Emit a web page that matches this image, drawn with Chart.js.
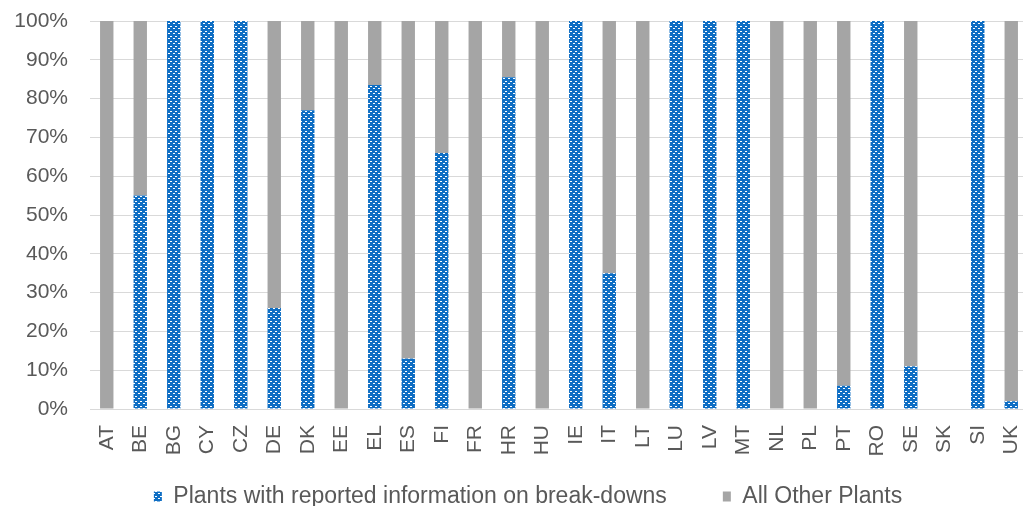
<!DOCTYPE html>
<html>
<head>
<meta charset="utf-8">
<script src="https://cdn.jsdelivr.net/npm/chart.js@4/dist/chart.umd.min.js"></script>
<style>
  html, body { margin: 0; padding: 0; background: #fff; overflow: hidden; }
  #wrap { position: relative; width: 1030px; height: 506px; }
</style>
</head>
<body>
<div id="wrap"><canvas id="chart"></canvas></div>
<script>
// Country codes along the x axis
const categories = ['AT','BE','BG','CY','CZ','DE','DK','EE','EL','ES','FI','FR','HR','HU',
                    'IE','IT','LT','LU','LV','MT','NL','PL','PT','RO','SE','SK','SI','UK'];

// Share of plants (%) with reported information on break-downs
const reportedShare = [0, 55, 100, 100, 100, 26, 77, 0, 83.5, 13, 66, 0, 85.5, 0,
                       100, 35, 0, 100, 100, 100, 0, 0, 6, 100, 11, 0, 100, 2];

// Share of all other plants (%)
const otherShare = [100, 45, 0, 0, 0, 74, 23, 100, 16.5, 87, 34, 100, 14.5, 100,
                    0, 65, 100, 0, 0, 0, 100, 100, 94, 0, 89, 0, 0, 98];

// Y axis tick values (%)
const percentTicks = [0, 10, 20, 30, 40, 50, 60, 70, 80, 90, 100];

const seriesNames = ['Plants with reported information on break-downs', 'All Other Plants'];

const TEXT = '#595959';
const GRID = '#D9D9D9';
const GREY = '#A5A5A5';
const BLUE = '#0E6EC4';
const FONT = 'Liberation Sans, Arial, sans-serif';

// Blue tile with staggered short white dashes
function dashPattern() {
  const t = document.createElement('canvas');
  t.width = 5; t.height = 5;
  const g = t.getContext('2d');
  g.fillStyle = BLUE;
  g.fillRect(0, 0, 5, 5);
  g.fillStyle = '#ffffff';
  g.fillRect(0, 1, 2, 1);
  g.fillRect(3, 3, 2, 1);
  return g.createPattern(t, 'repeat');
}

// Lifts the legend row closer to the axis labels and centres it under the plot
const legendPlacement = {
  id: 'legendPlacement',
  afterLayout(chart) {
    const lg = chart.legend;
    if (!lg) return;
    lg.top -= 30; lg.bottom -= 30;
    lg.left += 14; lg.right += 14;
  }
};

const ctx = document.getElementById('chart').getContext('2d');
const bluePattern = dashPattern();

new Chart(ctx, {
  type: 'bar',
  data: {
    labels: categories,
    datasets: [
      { label: seriesNames[0], data: reportedShare, backgroundColor: bluePattern, borderWidth: 0 },
      { label: seriesNames[1], data: otherShare, backgroundColor: GREY, borderWidth: 0 }
    ]
  },
  plugins: [legendPlacement],
  options: {
    responsive: true,
    maintainAspectRatio: false,
    animation: false,
    categoryPercentage: 1,
    barPercentage: 0.4,
    layout: { padding: { top: 21, left: 0, right: 2, bottom: -42 } },
    plugins: {
      tooltip: { enabled: false },
      legend: {
        position: 'bottom',
        labels: {
          boxWidth: 8,
          boxHeight: 10,
          padding: 56,
          color: TEXT,
          font: { family: FONT, size: 23 }
        }
      }
    },
    scales: {
      x: {
        stacked: true,
        grid: { display: false, drawTicks: false },
        border: { display: true, color: GRID },
        ticks: {
          autoSkip: false,
          maxRotation: 90,
          minRotation: 90,
          padding: 16,
          color: TEXT,
          font: { family: FONT, size: 21 }
        },
        afterFit(scale) {
          scale.height = 50;
          scale.paddingLeft = 0;
          scale.paddingRight = 0;
        }
      },
      y: {
        stacked: true,
        min: 0,
        max: 100,
        grid: { color: GRID, lineWidth: 1, drawTicks: false },
        border: { display: false },
        afterBuildTicks(scale) {
          scale.ticks = percentTicks.map(v => ({ value: v }));
        },
        ticks: {
          padding: 22,
          color: TEXT,
          font: { family: FONT, size: 21 },
          callback: v => v + '%'
        },
        afterFit(scale) {
          scale.width = 90;
          scale.paddingTop = 0;
          scale.paddingBottom = 0;
        }
      }
    }
  }
});
</script>
</body>
</html>
